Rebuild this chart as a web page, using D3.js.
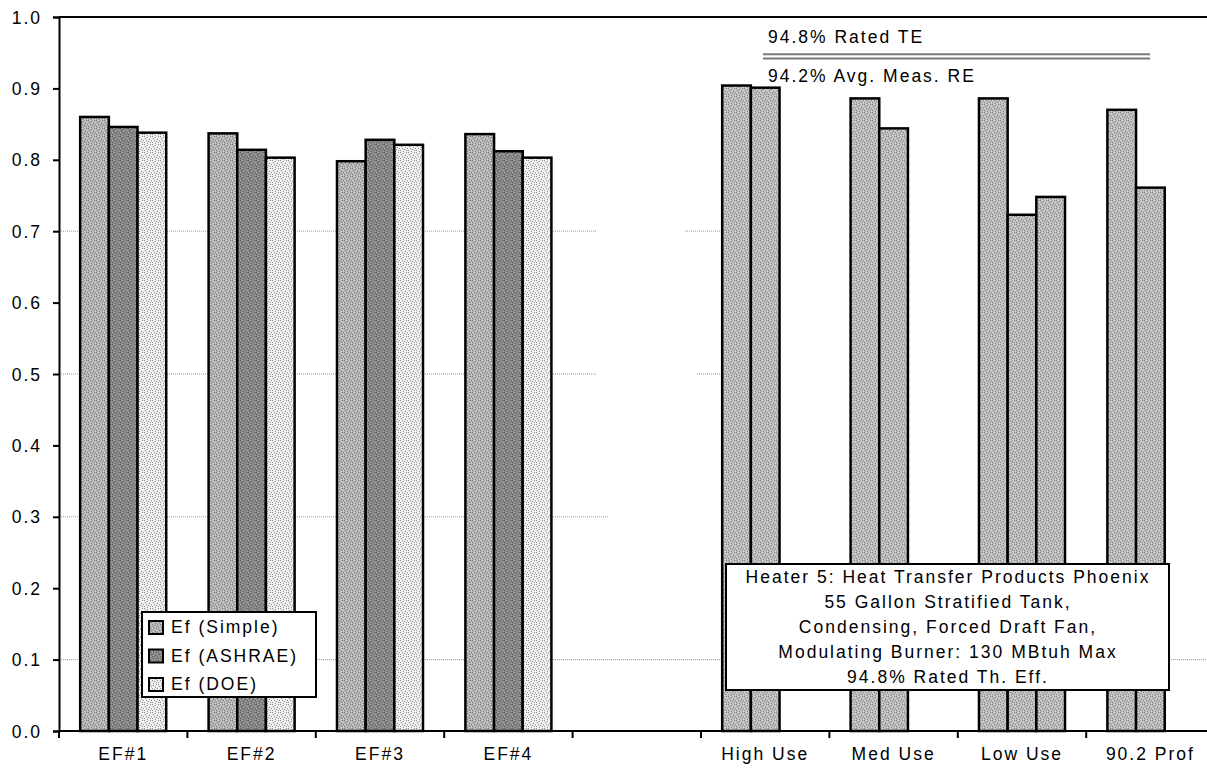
<!DOCTYPE html>
<html>
<head>
<meta charset="utf-8">
<script src="https://cdn.jsdelivr.net/npm/d3@7"></script>
<style>
  body { margin: 0; background: #fff; }
  svg text { font-family: "Liberation Sans", Arial, sans-serif; font-size: 17.5px; letter-spacing: 2px; fill: #000; }
</style>
</head>
<body>
<svg id="chart"></svg>
<script>
var efCategories = ['EF#1', 'EF#2', 'EF#3', 'EF#4'];
var profCategories = ['High Use', 'Med Use', 'Low Use', '90.2 Prof'];
var allCategories = efCategories.concat([''], profCategories);

var seriesNames = ['Ef (Simple)', 'Ef (ASHRAE)', 'Ef (DOE)'];
var efSimple = [0.860, 0.837, 0.798, 0.836];
var efAshrae = [0.846, 0.814, 0.828, 0.812];
var efDoe = [0.838, 0.803, 0.821, 0.803];

var profFirst = [0.904, 0.886, 0.886, 0.870];
var profSecond = [0.901, 0.844, 0.723, 0.761];
var profThird = [null, null, 0.748, null];

var yTicks = [0, 0.1, 0.2, 0.3, 0.4, 0.5, 0.6, 0.7, 0.8, 0.9, 1.0];
var ratedTE = 0.948;
var measRE = 0.942;
var refLabels = ['94.8% Rated TE', '94.2% Avg. Meas. RE'];
var noteLines = ['Heater 5: Heat Transfer Products Phoenix', '55 Gallon Stratified Tank,',
    'Condensing, Forced Draft Fan,', 'Modulating Burner: 130 MBtuh Max', '94.8% Rated Th. Eff.'];

var width = 1207;
var height = 774;
var plotLeft = 59, plotTop = 17, plotBottom = 731;

var svg = d3.select('#chart').attr('width', width).attr('height', height);

var xs = d3.scaleBand().domain(allCategories).range([plotLeft, plotLeft + 9 * 128.4]).padding(0);
var bw = xs.bandwidth();
var xin = d3.scaleBand().domain([0, 1, 2]).range([bw * 0.165, bw * 0.835]);
var ys = d3.scaleLinear().domain([0, 1]).range([plotBottom, plotTop]);

// stipple fills, like the old excel patterns
var darkDots = [[0, 0], [3, 1], [6, 0], [1, 2], [5, 3], [2, 4], [7, 4], [4, 5], [0, 6], [6, 6], [3, 7]];
var lightDots = [[2, 0], [5, 1], [7, 2], [3, 3], [0, 4], [6, 5], [1, 6], [4, 7], [7, 7]];
var defs = svg.append('defs');
function stipple(id, base, dark, light) {
    var p = defs.append('pattern').attr('id', id).attr('patternUnits', 'userSpaceOnUse')
        .attr('width', 8).attr('height', 8);
    p.append('rect').attr('width', 8).attr('height', 8).attr('fill', base);
    darkDots.forEach(function (d) {
        p.append('rect').attr('x', d[0]).attr('y', d[1]).attr('width', 1).attr('height', 1).attr('fill', dark);
    });
    lightDots.forEach(function (d) {
        p.append('rect').attr('x', d[0]).attr('y', d[1]).attr('width', 1).attr('height', 1).attr('fill', light);
    });
}
stipple('pSimple', '#b3b3b3', '#7e7e7e', '#d8d8d8');
stipple('pAshrae', '#888888', '#5e5e5e', '#a9a9a9');
stipple('pDoe', '#ededed', '#8e8e8e', '#ffffff');
stipple('pProf', '#bbbbbb', '#878787', '#dedede');
var fills = ['url(#pSimple)', 'url(#pAshrae)', 'url(#pDoe)'];

function dotted(sel) {
    sel.attr('stroke', '#9a9a9a').attr('stroke-width', 1).attr('stroke-dasharray', '1,1');
}

// gridlines (dotted, only partly shown like the source)
svg.append('line')
    .attr('x1', plotLeft).attr('x2', width)
    .attr('y1', ys(0.1)).attr('y2', ys(0.1))
    .call(dotted);
svg.selectAll('.grid').data([0.3, 0.5, 0.7]).enter()
    .append('line').attr('class', 'grid')
    .attr('x1', plotLeft).attr('x2', function (d) { return d == 0.3 ? 608 : 597; })
    .attr('y1', function (d) { return ys(d); }).attr('y2', function (d) { return ys(d); })
    .call(dotted);
svg.selectAll('.grid2').data([0.5, 0.7]).enter()
    .append('line').attr('class', 'grid2')
    .attr('x1', function (d) { return d == 0.7 ? 685 : 697; }).attr('x2', 720)
    .attr('y1', function (d) { return ys(d); }).attr('y2', function (d) { return ys(d); })
    .call(dotted);

// EF bars
[efSimple, efAshrae, efDoe].forEach(function (vals, s) {
    svg.append('g').selectAll('rect').data(vals).enter()
        .append('rect')
        .attr('x', function (d, i) { return xs(efCategories[i]) + xin(s); })
        .attr('y', function (d) { return ys(d); })
        .attr('width', xin.bandwidth())
        .attr('height', function (d) { return ys(0) - ys(d); })
        .attr('fill', fills[s])
        .attr('stroke', '#000').attr('stroke-width', 2.5);
});

// profile bars
[profFirst, profSecond, profThird].forEach(function (vals, s) {
    var rows = vals.map(function (v, i) { return { v: v, c: profCategories[i] }; })
        .filter(function (d) { return d.v != null; });
    svg.append('g').selectAll('rect').data(rows).enter()
        .append('rect')
        .attr('x', function (d) { return xs(d.c) + xin(s); })
        .attr('y', function (d) { return ys(d.v); })
        .attr('width', xin.bandwidth())
        .attr('height', function (d) { return ys(0) - ys(d.v); })
        .attr('fill', 'url(#pProf)')
        .attr('stroke', '#000').attr('stroke-width', 2.5);
});

// reference lines
svg.selectAll('.ref').data([ratedTE, measRE]).enter()
    .append('line').attr('class', 'ref')
    .attr('x1', 763).attr('x2', 1150)
    .attr('y1', function (d) { return ys(d); }).attr('y2', function (d) { return ys(d); })
    .attr('stroke', '#7a7a7a').attr('stroke-width', 2);
svg.append('text').attr('x', 768).attr('y', 43).text(refLabels[0]);
svg.append('text').attr('x', 768).attr('y', 82).text(refLabels[1]);

// axes
svg.append('line').attr('x1', plotLeft).attr('x2', width).attr('y1', plotTop).attr('y2', plotTop)
    .attr('stroke', '#000').attr('stroke-width', 2);

var yAxis = svg.append('g')
    .attr('transform', 'translate(' + plotLeft + ',0)')
    .call(d3.axisLeft(ys).tickValues(yTicks).tickFormat(d3.format('.1f')).tickSize(6).tickPadding(11));
yAxis.select('.domain').attr('stroke-width', 2);
yAxis.selectAll('.tick line').attr('stroke-width', 2);
yAxis.selectAll('text').attr('font-size', null).attr('font-family', null).attr('dy', '0.35em');

var xAxis = svg.append('g')
    .attr('transform', 'translate(0,' + plotBottom + ')')
    .call(d3.axisBottom(xs).tickSize(0).tickPadding(17));
xAxis.select('.domain').attr('d', 'M' + plotLeft + ',0H' + width).attr('stroke-width', 2);
xAxis.selectAll('text').attr('font-size', null).attr('font-family', null).attr('dy', '0.71em');
xAxis.selectAll('.edge').data(allCategories).enter()
    .append('line').attr('class', 'edge')
    .attr('x1', function (d) { return xs(d); }).attr('x2', function (d) { return xs(d); })
    .attr('y1', 0).attr('y2', 7)
    .attr('stroke', '#000').attr('stroke-width', 2);

// legend
var legend = svg.append('g').attr('transform', 'translate(142,612)');
legend.append('rect').attr('width', 174).attr('height', 85)
    .attr('fill', '#fff').attr('stroke', '#000').attr('stroke-width', 2);
seriesNames.forEach(function (name, i) {
    legend.append('rect').attr('x', 7).attr('y', 9 + i * 28.5).attr('width', 14).attr('height', 13)
        .attr('fill', fills[i]).attr('stroke', '#000').attr('stroke-width', 2);
    legend.append('text').attr('x', 29).attr('y', 21 + i * 28.5).text(name);
});

// note box
var note = svg.append('g').attr('transform', 'translate(726,564)');
note.append('rect').attr('width', 443).attr('height', 126)
    .attr('fill', '#fff').attr('stroke', '#000').attr('stroke-width', 2);
note.selectAll('text').data(noteLines).enter()
    .append('text')
    .attr('x', 222).attr('y', function (d, i) { return 19 + i * 25; })
    .attr('text-anchor', 'middle')
    .text(function (d) { return d; });
</script>
</body>
</html>
